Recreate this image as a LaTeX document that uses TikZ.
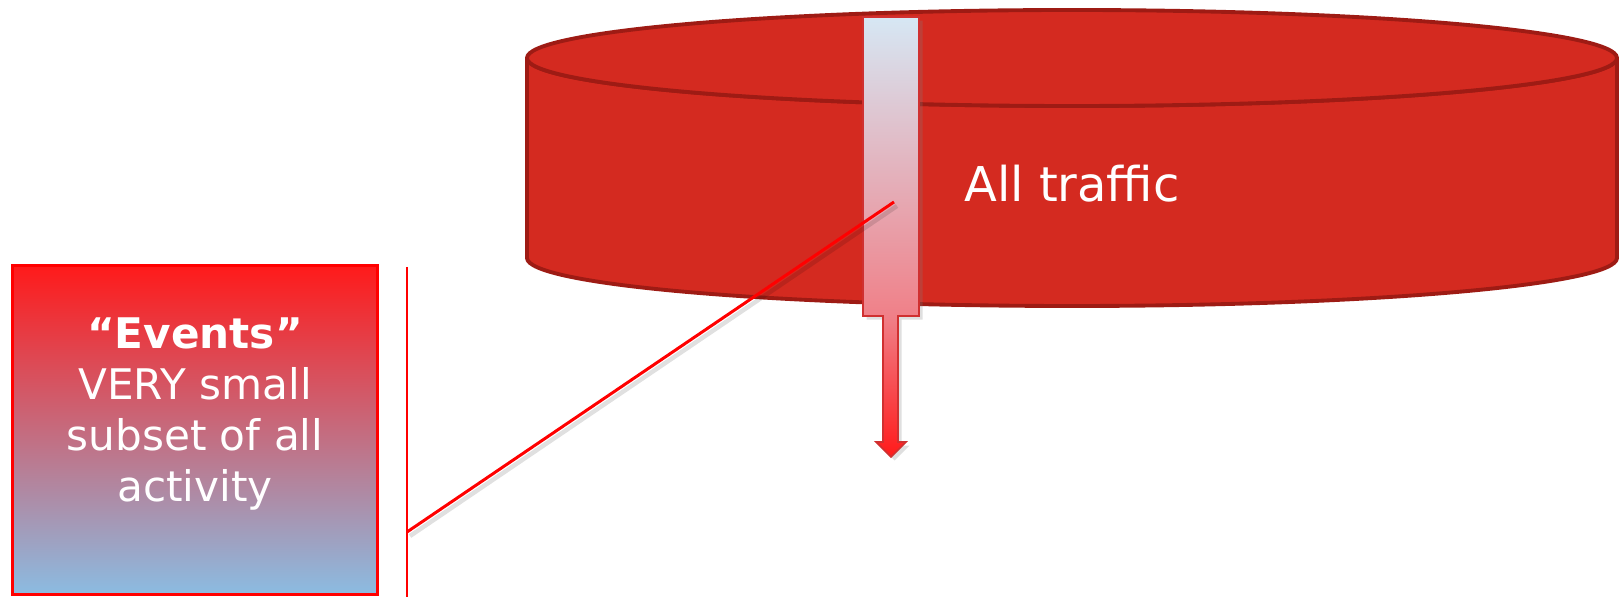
\documentclass[tikz,border=0pt]{standalone}
\usepackage{fontspec}
\setmainfont{DejaVu Sans}
\usepackage{xcolor}
\usepackage{tikz}
\usetikzlibrary{positioning,shadows,calc}
\definecolor{drum}{HTML}{D42A20}
\definecolor{drumedge}{HTML}{9E1B14}
\definecolor{hotred}{HTML}{FF1A1A}
\definecolor{skyblue}{HTML}{8BBCE2}
\definecolor{paleblue}{HTML}{D6E7F4}
\definecolor{rosy}{HTML}{CC98B0}
\definecolor{pinkish}{HTML}{F08088}
\definecolor{baredge}{HTML}{D03030}
\pgfdeclareverticalshading{filterfade}{100bp}{color(0bp)=(hotred); color(25bp)=(hotred); color(41bp)=(pinkish); color(75bp)=(paleblue); color(100bp)=(paleblue)}
\tikzset{
    drumline/.style={draw=drumedge, line width=2.2pt, line join=round, fill=drum},
    eventbox/.style={rectangle, draw=red, line width=1.7pt, top color=hotred, middle color=rosy, bottom color=skyblue, minimum width=7.32cm, minimum height=6.6cm},
    boxtext/.style={align=center, text=white, inner sep=0pt, font=\fontsize{24}{29}\selectfont},
    drumtext/.style={text=white, inner sep=0pt, font=\fontsize{27.3}{32}\selectfont},
    filter/.style={draw=baredge, line width=1pt, shading=filterfade, drop shadow={opacity=0.25, shadow xshift=2pt, shadow yshift=-2pt}},
    callout/.style={draw=red, line width=1.7pt},
    calloutshadow/.style={draw=black, opacity=0.12, line width=2.5pt}
}

\begin{document}
\begin{tikzpicture}[x=0.02cm, y=-0.02cm]
\useasboundingbox (0,0) rectangle (1624,597);

% Traffic drum
\path[drumline] (527,58) -- (527,258) arc[start angle=180, end angle=0, x radius=545, y radius=48] -- (1617,58) arc[start angle=0, end angle=180, x radius=545, y radius=48] -- cycle;
\draw[drumline] (1072,58) ellipse[x radius=545, y radius=48];
\node[drumtext, anchor=base] (traffic) at (1072,202) {All traffic};

% Filter arrow
\path[filter] (863,17) -- (919,17) -- (919,316) -- (898,316) -- (898,442) -- (906,442) -- (891,457) -- (876,442) -- (883,442) -- (883,316) -- (863,316) -- cycle;

% Callout
\coordinate (pick) at (894,202);
\coordinate (knee) at (407,532);
\coordinate (bartop) at (407,267);
\coordinate (barbot) at (407,597);
\draw[calloutshadow] ($(pick)+(3,4)$) -- ($(knee)+(3,4)$);
\draw[callout] (pick) -- (knee);
\draw[callout] (bartop) -- (barbot);

% Events box
\node[eventbox] (events) at (195,430) {};
\node[boxtext] (eventstext) at (195,414) {\textbf{“Events”}\\VERY small\\subset of all\\activity};

\end{tikzpicture}
\end{document}
